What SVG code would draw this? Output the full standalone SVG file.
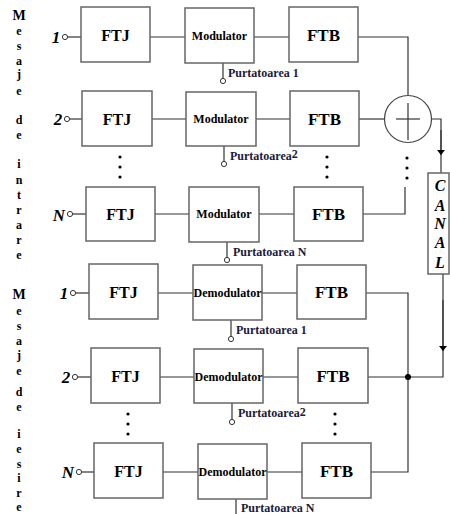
<svg xmlns="http://www.w3.org/2000/svg" width="450" height="514" viewBox="0 0 450 514">
<style>
.box{fill:#fff;stroke:#666;stroke-width:1.5}
.ln{fill:none;stroke:#333;stroke-width:1.2}
.pin{fill:#fff;stroke:#333;stroke-width:1}
.dot{fill:#000}
.blk{font-family:"Liberation Serif",serif;font-weight:bold;fill:#000;text-anchor:middle}
.f{font-size:16px}
.fb{font-size:17px}
.m{font-size:12px}
.p{font-family:"Liberation Serif",serif;font-weight:bold;font-size:12px;fill:#1a1a3a}
.num{font-family:"Liberation Serif",serif;font-weight:bold;font-style:italic;font-size:17px;fill:#000;text-anchor:middle}
.side{font-family:"Liberation Serif",serif;font-weight:bold;font-size:12px;fill:#000;text-anchor:middle}
.can{font-family:"Liberation Serif",serif;font-weight:bold;font-style:italic;font-size:16px;fill:#000;text-anchor:middle}
</style>
<defs>
<marker id="arr" markerWidth="6" markerHeight="8" refX="5" refY="4" orient="auto" markerUnits="userSpaceOnUse" viewBox="0 0 6 8">
<path d="M0,0 L5,4 L0,8 Z" fill="#000"/>
</marker>
</defs>

<g id="connectors">
<!-- modulator row 1 -->
<line class="ln" x1="68" y1="37" x2="81" y2="37"/>
<line class="ln" x1="150" y1="37" x2="185" y2="37"/>
<line class="ln" x1="254" y1="37" x2="289" y2="37"/>
<polyline class="ln" points="358,37 408,37 408,95.5"/>
<line class="ln" x1="223" y1="63" x2="223" y2="78.5"/>
<!-- row 2 -->
<line class="ln" x1="70" y1="119" x2="82" y2="119"/>
<line class="ln" x1="152" y1="119" x2="186" y2="119"/>
<line class="ln" x1="256" y1="119" x2="290" y2="119"/>
<line class="ln" x1="359" y1="119" x2="384.5" y2="119"/>
<line class="ln" x1="224" y1="146" x2="224" y2="161.5"/>
<!-- row N -->
<line class="ln" x1="73" y1="214" x2="86" y2="214"/>
<line class="ln" x1="155" y1="214" x2="189" y2="214"/>
<line class="ln" x1="259" y1="214" x2="294" y2="214"/>
<polyline class="ln" points="363,214 405,214 405,187"/>
<line class="ln" x1="227" y1="242" x2="227" y2="257.5"/>
<!-- sum to canal -->
<polyline class="ln" points="431.5,119 441,119 441,173"/>
<line class="ln" x1="441" y1="130" x2="441" y2="155" marker-end="url(#arr)"/>
<!-- canal to demod -->
<polyline class="ln" points="443,274 443,377 408,377"/>
<line class="ln" x1="443" y1="300" x2="443" y2="351" marker-end="url(#arr)"/>
<polyline class="ln" points="366,293 408,293 408,472 371,472"/>
<line class="ln" x1="368" y1="377" x2="408" y2="377"/>
<!-- demod row 1 -->
<line class="ln" x1="76" y1="293" x2="89" y2="293"/>
<line class="ln" x1="158" y1="293" x2="193" y2="293"/>
<line class="ln" x1="262" y1="293" x2="297" y2="293"/>
<line class="ln" x1="231" y1="320" x2="231" y2="336.5"/>
<!-- demod row 2 -->
<line class="ln" x1="78" y1="377" x2="91" y2="377"/>
<line class="ln" x1="160" y1="377" x2="194" y2="377"/>
<line class="ln" x1="263" y1="377" x2="298" y2="377"/>
<line class="ln" x1="232" y1="403" x2="232" y2="419.5"/>
<!-- demod row N -->
<line class="ln" x1="82" y1="472" x2="94" y2="472"/>
<line class="ln" x1="163" y1="472" x2="198" y2="472"/>
<line class="ln" x1="267" y1="472" x2="302" y2="472"/>
<line class="ln" x1="236" y1="499" x2="236" y2="514"/>
<circle class="dot" cx="408" cy="377" r="3"/>
<!-- pins -->
<circle class="pin" cx="65" cy="37" r="2.6"/>
<circle class="pin" cx="67" cy="119" r="2.6"/>
<circle class="pin" cx="70" cy="214" r="2.6"/>
<circle class="pin" cx="223" cy="81" r="2.6"/>
<circle class="pin" cx="224" cy="164" r="2.6"/>
<circle class="pin" cx="227" cy="260" r="2.6"/>
<circle class="pin" cx="73" cy="293" r="2.6"/>
<circle class="pin" cx="75" cy="377" r="2.6"/>
<circle class="pin" cx="79" cy="472" r="2.6"/>
<circle class="pin" cx="231" cy="339" r="2.6"/>
<circle class="pin" cx="232" cy="422" r="2.6"/>
<!-- continuation dots -->
<circle class="dot" cx="120" cy="157" r="1.6"/><circle class="dot" cx="120" cy="167" r="1.6"/><circle class="dot" cx="120" cy="177" r="1.6"/>
<circle class="dot" cx="327" cy="157" r="1.6"/><circle class="dot" cx="327" cy="167" r="1.6"/><circle class="dot" cx="327" cy="177" r="1.6"/>
<circle class="dot" cx="407" cy="158" r="1.6"/><circle class="dot" cx="407" cy="168" r="1.6"/><circle class="dot" cx="407" cy="178" r="1.6"/>
<circle class="dot" cx="128" cy="414" r="1.6"/><circle class="dot" cx="128" cy="424" r="1.6"/><circle class="dot" cx="128" cy="434" r="1.6"/>
<circle class="dot" cx="335" cy="414" r="1.6"/><circle class="dot" cx="335" cy="424" r="1.6"/><circle class="dot" cx="335" cy="434" r="1.6"/>
</g>

<g id="side-labels">
<text class="side" x="19" y="20" style="font-size:14px">M</text>
<text class="side" x="19" y="35">e</text>
<text class="side" x="19" y="50">s</text>
<text class="side" x="19" y="65">a</text>
<text class="side" x="19" y="78">j</text>
<text class="side" x="19" y="95">e</text>
<text class="side" x="19" y="124">d</text>
<text class="side" x="19" y="139">e</text>
<text class="side" x="19" y="168">i</text>
<text class="side" x="19" y="184">n</text>
<text class="side" x="19" y="199">t</text>
<text class="side" x="19" y="214">r</text>
<text class="side" x="19" y="229">a</text>
<text class="side" x="19" y="244">r</text>
<text class="side" x="19" y="259">e</text>
<text class="side" x="19" y="299" style="font-size:14px">M</text>
<text class="side" x="19" y="315">e</text>
<text class="side" x="19" y="330">s</text>
<text class="side" x="19" y="345">a</text>
<text class="side" x="19" y="359">j</text>
<text class="side" x="19" y="375">e</text>
<text class="side" x="19" y="396">d</text>
<text class="side" x="19" y="411">e</text>
<text class="side" x="19" y="438">i</text>
<text class="side" x="19" y="453">e</text>
<text class="side" x="19" y="468">s</text>
<text class="side" x="19" y="482">i</text>
<text class="side" x="19" y="497">r</text>
<text class="side" x="19" y="511">e</text>
</g>

<g id="inputs">
<text class="num" x="56" y="43">1</text>
<text class="num" x="58" y="125">2</text>
<text class="num" x="59" y="221">N</text>
<text class="num" x="64" y="299">1</text>
<text class="num" x="66" y="383">2</text>
<text class="num" x="68" y="478">N</text>
</g>

<g id="ftj1"><rect class="box" x="81" y="7" width="69" height="55"/><text class="blk f" x="115.5" y="41">FTJ</text></g>
<g id="mod1"><rect class="box" x="185" y="8" width="69" height="55"/><text class="blk m" x="219.5" y="40">Modulator</text></g>
<g id="ftb1"><rect class="box" x="289" y="7" width="69" height="55"/><text class="blk fb" x="323.5" y="41">FTB</text></g>
<text class="p" x="228" y="77">Purtatoarea 1</text>

<g id="ftj2"><rect class="box" x="82" y="91" width="70" height="55"/><text class="blk f" x="117" y="125">FTJ</text></g>
<g id="mod2"><rect class="box" x="186" y="92" width="70" height="54"/><text class="blk m" x="221" y="123">Modulator</text></g>
<g id="ftb2"><rect class="box" x="290" y="91" width="69" height="55"/><text class="blk fb" x="324.5" y="125">FTB</text></g>
<text class="p" x="230" y="160">Purtatoarea<tspan dy="-2">2</tspan></text>

<g id="ftjN"><rect class="box" x="86" y="187" width="69" height="54"/><text class="blk f" x="120.5" y="220">FTJ</text></g>
<g id="modN"><rect class="box" x="189" y="187" width="70" height="55"/><text class="blk m" x="224" y="218">Modulator</text></g>
<g id="ftbN"><rect class="box" x="294" y="187" width="69" height="54"/><text class="blk fb" x="328.5" y="220">FTB</text></g>
<text class="p" x="233" y="256">Purtatoarea N</text>

<g id="sum">
<circle cx="408" cy="119" r="23.5" fill="#fff" stroke="#444" stroke-width="1.2"/>
<line class="ln" x1="396" y1="119" x2="420" y2="119"/>
<line class="ln" x1="408" y1="103" x2="408" y2="140"/>
</g>

<g id="canal">
<rect class="box" x="428" y="173" width="21" height="101"/>
<text class="can" x="440" y="191">C</text>
<text class="can" x="440" y="211">A</text>
<text class="can" x="440" y="229">N</text>
<text class="can" x="440" y="248">A</text>
<text class="can" x="440" y="268">L</text>
</g>

<g id="dftj1"><rect class="box" x="89" y="264" width="69" height="55"/><text class="blk f" x="123.5" y="298">FTJ</text></g>
<g id="demod1"><rect class="box" x="193" y="265" width="69" height="55"/><text class="blk m" x="227.5" y="297">Demodulator</text></g>
<g id="dftb1"><rect class="box" x="297" y="265" width="69" height="54"/><text class="blk fb" x="331.5" y="298">FTB</text></g>
<text class="p" x="236" y="334">Purtatoarea 1</text>

<g id="dftj2"><rect class="box" x="91" y="348" width="69" height="55"/><text class="blk f" x="125.5" y="382">FTJ</text></g>
<g id="demod2"><rect class="box" x="194" y="349" width="69" height="54"/><text class="blk m" x="228.5" y="381">Demodulator</text></g>
<g id="dftb2"><rect class="box" x="298" y="348" width="70" height="55"/><text class="blk fb" x="333" y="382">FTB</text></g>
<text class="p" x="238" y="417">Purtatoarea<tspan dy="-1">2</tspan></text>

<g id="dftjN"><rect class="box" x="94" y="443" width="69" height="55"/><text class="blk f" x="128.5" y="477">FTJ</text></g>
<g id="demodN"><rect class="box" x="198" y="444" width="69" height="55"/><text class="blk m" x="232.5" y="476">Demodulator</text></g>
<g id="dftbN"><rect class="box" x="302" y="443" width="69" height="55"/><text class="blk fb" x="336.5" y="477">FTB</text></g>
<text class="p" x="241" y="512">Purtatoarea N</text>
</svg>
